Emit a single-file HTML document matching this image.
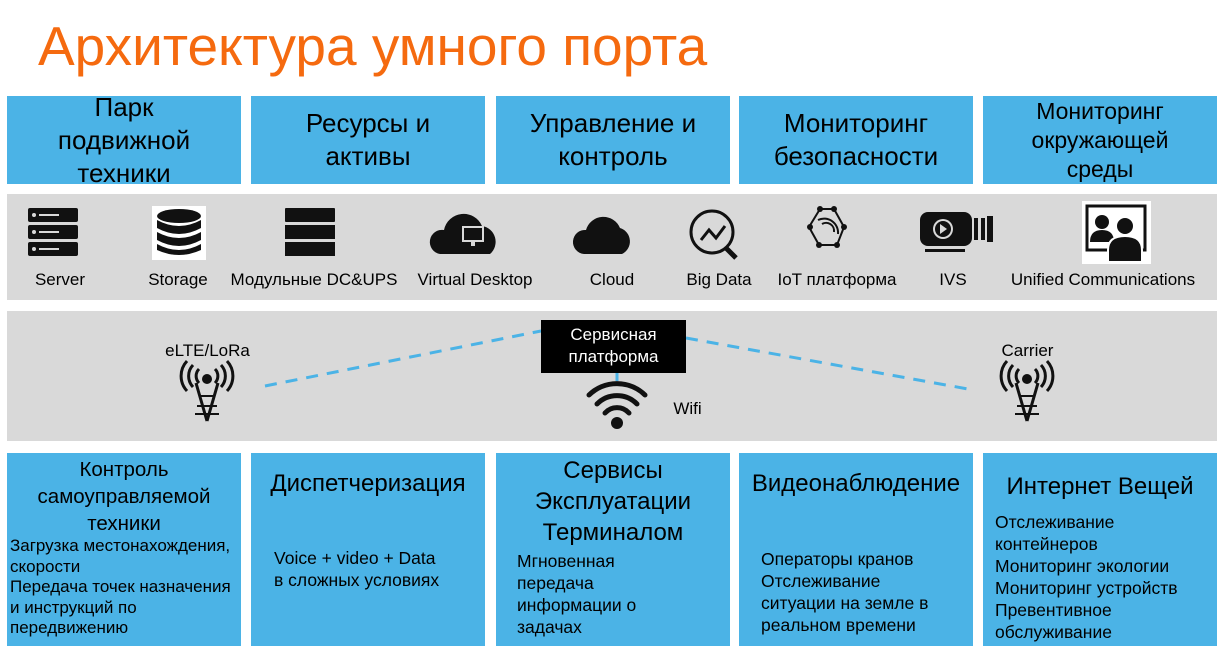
<!DOCTYPE html>
<html><head><meta charset="utf-8"><style>
body{margin:0;width:1219px;height:649px;background:#fff;position:relative;overflow:hidden;font-family:"Liberation Sans",sans-serif;}
.a{position:absolute}
.t{left:38px;top:14px;font-size:55px;color:#f56a0f;}
.b{background:#4bb3e6;color:#000;}
.h{display:flex;align-items:center;justify-content:center;text-align:center;font-size:26px;line-height:33px;}
.g{background:#d9d9d9}
.lbl{font-size:17px;text-align:center;white-space:nowrap}
.bt{font-size:17.5px;line-height:22px;white-space:nowrap}
</style></head><body>
<div class="a t">Архитектура умного порта</div>
<div class="a b h" style="left:7px;top:96px;width:234px;height:88px;padding-top:0">Парк<br>подвижной<br>техники</div>
<div class="a b h" style="left:251px;top:96px;width:234px;height:88px">Ресурсы и<br>активы</div>
<div class="a b h" style="left:496px;top:96px;width:234px;height:88px">Управление и<br>контроль</div>
<div class="a b h" style="left:739px;top:96px;width:234px;height:88px">Мониторинг<br>безопасности</div>
<div class="a b h" style="left:983px;top:96px;width:234px;height:88px;font-size:23px;line-height:29px">Мониторинг<br>окружающей<br>среды</div>

<div class="a g" style="left:7px;top:194px;width:1210px;height:106px"></div>
<svg class="a" style="left:0;top:194px" width="1219" height="106">
<g fill="#111">
<rect x="28" y="14" width="50" height="14" rx="2"/><rect x="28" y="31" width="50" height="14" rx="2"/><rect x="28" y="48" width="50" height="14" rx="2"/>
<g fill="#d9d9d9"><circle cx="34" cy="21" r="2"/><circle cx="34" cy="38" r="2"/><circle cx="34" cy="55" r="2"/><rect x="39" y="20" width="20" height="2"/><rect x="39" y="37" width="20" height="2"/><rect x="39" y="54" width="20" height="2"/></g>
<rect x="152" y="12" width="54" height="54" fill="#fff"/>
<ellipse cx="179" cy="22" rx="22" ry="7"/><path d="M157 26 q22 12 44 0 v8 q-22 12 -44 0z"/><path d="M157 38 q22 12 44 0 v8 q-22 12 -44 0z"/><path d="M157 50 q22 12 44 0 v6 q-22 10 -44 0z"/>
<rect x="285" y="14" width="50" height="14" rx="1"/><rect x="285" y="31" width="50" height="14"/><rect x="285" y="48" width="50" height="14"/>
<path d="M440 60 a12 12 0 0 1 4 -24 a20 20 0 0 1 38 -4 a16 16 0 0 1 8 28z"/>
<rect x="462" y="32" width="22" height="16" fill="#d9d9d9"/><rect x="464" y="34" width="18" height="12"/><rect x="471" y="48" width="4" height="4" fill="#d9d9d9"/>
<path d="M584 60 a12 12 0 0 1 2 -24 a18 18 0 0 1 34 -2 a14 14 0 0 1 2 26z"/>
</g>
<g fill="none" stroke="#111" stroke-width="3">
<circle cx="712" cy="38" r="21"/><path d="M726 54 l10 10" stroke-width="5"/><path d="M701 46 l8 -10 l7 8 l9 -12"/>
<path d="M820 15 h14 l10 18 l-7 18 h-18 l-10 -18z" stroke-width="2"/>
<path d="M822 30 a8 8 0 0 1 12 8 M818 26 a14 14 0 0 1 20 14" stroke-width="2"/>
</g>
<g fill="#111"><circle cx="820" cy="15" r="3"/><circle cx="834" cy="15" r="3"/><circle cx="844" cy="33" r="3"/><circle cx="810" cy="33" r="3"/><circle cx="819" cy="51" r="3"/><circle cx="837" cy="51" r="3"/>
<rect x="920" y="18" width="52" height="34" rx="8"/><rect x="974" y="24" width="4" height="22"/><rect x="981" y="24" width="4" height="22"/><rect x="987" y="22" width="6" height="26"/>
<circle cx="943" cy="35" r="10" fill="#d9d9d9"/><circle cx="943" cy="35" r="8"/><path d="M940 30 l7 5 l-7 5z" fill="#d9d9d9"/><rect x="925" y="55" width="40" height="3"/>
<rect x="1082" y="7" width="69" height="63" fill="#fff"/><rect x="1087" y="12" width="58" height="44" fill="none" stroke="#111" stroke-width="3"/>
<circle cx="1102" cy="28" r="7"/><path d="M1090 48 q0 -12 12 -12 q12 0 12 12z"/><circle cx="1125" cy="32" r="9" stroke="#fff" stroke-width="2"/><path d="M1108 68 v-12 q0 -14 17 -14 q17 0 17 14 v12z" stroke="#fff" stroke-width="2"/>
</g>
</svg>
<div class="a lbl" style="left:20px;top:270px;width:80px">Server</div>
<div class="a lbl" style="left:138px;top:270px;width:80px">Storage</div>
<div class="a lbl" style="left:224px;top:270px;width:180px">Модульные DC&amp;UPS</div>
<div class="a lbl" style="left:410px;top:270px;width:130px">Virtual Desktop</div>
<div class="a lbl" style="left:572px;top:270px;width:80px">Cloud</div>
<div class="a lbl" style="left:679px;top:270px;width:80px">Big Data</div>
<div class="a lbl" style="left:767px;top:270px;width:140px">IoT платформа</div>
<div class="a lbl" style="left:913px;top:270px;width:80px">IVS</div>
<div class="a lbl" style="left:1003px;top:270px;width:200px">Unified Communications</div>

<div class="a g" style="left:7px;top:311px;width:1210px;height:130px"></div>
<svg class="a" style="left:0;top:311px" width="1219" height="130">
<g stroke="#4bb3e6" stroke-width="3" stroke-dasharray="12 9" fill="none">
<path d="M265 75 L541 20"/><path d="M686 27 L968 78"/><path d="M617 62 L617 70"/></g>
<g fill="none" stroke="#111" stroke-width="3">
<path d="M196 72 L207 110 M218 72 L207 110" /><path d="M199 85 h16 M197 95 h20 M195 103 h24" stroke-width="2"/>
<path d="M199 58 a10 10 0 0 0 0 14 M215 58 a10 10 0 0 1 0 14 M193 54 a16 16 0 0 0 0 22 M221 54 a16 16 0 0 1 0 22 M187 50 a22 22 0 0 0 0 30 M227 50 a22 22 0 0 1 0 30"/>
</g>
<circle cx="207" cy="68" r="5" fill="#111"/>
<g transform="translate(820,0)"><g fill="none" stroke="#111" stroke-width="3"><path d="M196 72 L207 110 M218 72 L207 110"/><path d="M199 85 h16 M197 95 h20 M195 103 h24" stroke-width="2"/>
<path d="M199 58 a10 10 0 0 0 0 14 M215 58 a10 10 0 0 1 0 14 M193 54 a16 16 0 0 0 0 22 M221 54 a16 16 0 0 1 0 22 M187 50 a22 22 0 0 0 0 30 M227 50 a22 22 0 0 1 0 30"/></g><circle cx="207" cy="68" r="5" fill="#111"/></g>
<g fill="none" stroke="#111" stroke-width="5" stroke-linecap="round">
<path d="M589 84 a40 40 0 0 1 56 0"/><path d="M597 93 a28 28 0 0 1 40 0"/><path d="M605 102 a16 16 0 0 1 24 0"/></g>
<circle cx="617" cy="112" r="6" fill="#111"/>
</svg>
<div class="a" style="left:541px;top:320px;width:145px;height:53px;background:#000;color:#fff;font-size:17px;line-height:22px;text-align:center;padding-top:4px;box-sizing:border-box">Сервисная<br>платформа</div>
<div class="a lbl" style="left:160px;top:341px;width:95px">eLTE/LoRa</div>
<div class="a lbl" style="left:990px;top:341px;width:75px">Carrier</div>
<div class="a lbl" style="left:665px;top:399px;width:45px">Wifi</div>

<div class="a b" style="left:7px;top:453px;width:234px;height:193px">
<div style="text-align:center;font-size:20.5px;line-height:27px;margin-top:3px">Контроль<br>самоуправляемой<br>техники</div>
<div class="bt" style="padding-left:3px;line-height:20.5px;font-size:17px;margin-top:-1px">Загрузка местонахождения,<br>скорости<br>Передача точек назначения<br>и инструкций по<br>передвижению</div></div>
<div class="a b" style="left:251px;top:453px;width:234px;height:193px">
<div style="text-align:center;font-size:24px;margin-top:17px">Диспетчеризация</div>
<div class="bt" style="padding-left:23px;margin-top:49px">Voice + video + Data<br>в сложных условиях</div></div>
<div class="a b" style="left:496px;top:453px;width:234px;height:193px">
<div style="text-align:center;font-size:24px;line-height:31px;margin-top:2px">Сервисы<br>Эксплуатации<br>Терминалом</div>
<div class="bt" style="padding-left:21px;margin-top:2px">Мгновенная<br>передача<br>информации о<br>задачах</div></div>
<div class="a b" style="left:739px;top:453px;width:234px;height:193px">
<div style="text-align:center;font-size:24px;margin-top:17px">Видеонаблюдение</div>
<div class="bt" style="padding-left:22px;margin-top:50px">Операторы кранов<br>Отслеживание<br>ситуации на земле в<br>реальном времени</div></div>
<div class="a b" style="left:983px;top:453px;width:234px;height:193px">
<div style="text-align:center;font-size:24px;margin-top:20px">Интернет Вещей</div>
<div class="bt" style="padding-left:12px;margin-top:10px">Отслеживание<br>контейнеров<br>Мониторинг экологии<br>Мониторинг устройств<br>Превентивное<br>обслуживание</div></div>
</body></html>
